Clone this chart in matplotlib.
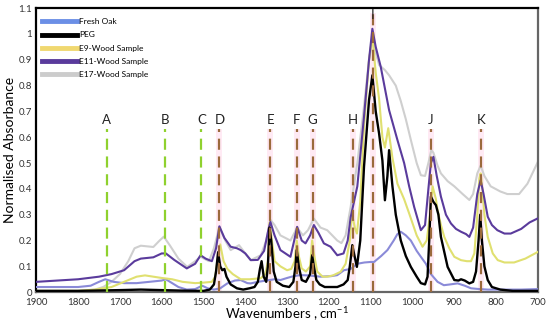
import numpy as np
import matplotlib
matplotlib.use("Agg")
import matplotlib.pyplot as plt

plt.rcParams['font.family'] = ['Lato', 'DejaVu Sans']

# wavenumbers (cm-1) and normalised absorbance
oak_wn = [1900, 1850, 1800, 1770, 1750, 1735, 1715, 1690, 1660, 1630, 1600, 1590, 1575, 1560, 1540, 1520,
          1503, 1490, 1475, 1460, 1443, 1425, 1411, 1395, 1387, 1370, 1350, 1330, 1316, 1300, 1285, 1268,
          1250, 1220, 1195, 1180, 1164, 1148, 1132, 1115, 1100, 1092, 1075, 1060, 1045, 1036, 1028, 1016,
          1004, 990, 980, 968, 956, 940, 925, 910, 892, 875, 860, 840, 820, 780, 740, 700]
oak_ab = [0.02, 0.02, 0.02, 0.025, 0.04, 0.05, 0.04, 0.035, 0.035, 0.04, 0.045, 0.05, 0.035, 0.02, 0.01, 0.012,
          0.025, 0.015, 0.01, 0.015, 0.034, 0.045, 0.047, 0.035, 0.034, 0.04, 0.045, 0.05, 0.047, 0.055, 0.062, 0.066,
          0.065, 0.06, 0.062, 0.066, 0.085, 0.09, 0.11, 0.115, 0.117, 0.117, 0.14, 0.163, 0.2, 0.225, 0.234, 0.22,
          0.2, 0.16, 0.137, 0.11, 0.07, 0.04, 0.027, 0.03, 0.034, 0.025, 0.015, 0.012, 0.01, 0.01, 0.01, 0.012]

peg_wn = [1900, 1800, 1700, 1650, 1600, 1550, 1500, 1485, 1475, 1470, 1465, 1460, 1455, 1450, 1445, 1435,
          1420, 1405, 1390, 1378, 1370, 1365, 1361, 1356, 1350, 1346, 1342, 1338, 1332, 1325, 1310, 1295,
          1285, 1280, 1277, 1272, 1265, 1255, 1245, 1240, 1236, 1230, 1222, 1210, 1195, 1180, 1165, 1155,
          1150, 1144, 1140, 1133, 1125, 1116, 1104, 1096, 1088, 1080, 1072, 1066, 1060, 1056, 1048, 1040,
          1028, 1016, 1004, 990, 980, 970, 964, 960, 956, 950, 944, 938, 932, 916, 900, 890, 884, 875, 864,
          855, 848, 842, 838, 834, 828, 820, 810, 790, 760, 730, 700]
peg_ab = [0.005, 0.005, 0.008, 0.01, 0.008, 0.006, 0.005, 0.01, 0.03, 0.08, 0.155, 0.1, 0.085, 0.09, 0.06, 0.03,
          0.015, 0.01, 0.015, 0.02, 0.04, 0.09, 0.12, 0.06, 0.04, 0.1, 0.25, 0.2, 0.08, 0.04, 0.025, 0.02,
          0.04, 0.1, 0.163, 0.1, 0.047, 0.04, 0.07, 0.143, 0.1, 0.047, 0.03, 0.02, 0.02, 0.02, 0.03, 0.047,
          0.1, 0.182, 0.15, 0.098, 0.2, 0.486, 0.744, 0.84, 0.7, 0.615, 0.51, 0.356, 0.45, 0.55, 0.41, 0.3,
          0.2, 0.14, 0.098, 0.06, 0.035, 0.03, 0.06, 0.2, 0.37, 0.35, 0.337, 0.3, 0.214, 0.098, 0.047, 0.045, 0.05, 0.045, 0.034,
          0.04, 0.08, 0.2, 0.3, 0.2, 0.1, 0.047, 0.02, 0.01, 0.005, 0.005, 0.005]

e9_wn = [1900, 1800, 1760, 1720, 1690, 1660, 1640, 1620, 1600, 1575, 1550, 1520, 1500, 1480, 1472, 1465,
         1460, 1452, 1443, 1430, 1411, 1390, 1363, 1352, 1346, 1342, 1338, 1330, 1316, 1300, 1290, 1282,
         1277, 1272, 1265, 1255, 1245, 1240, 1236, 1228, 1215, 1204, 1190, 1172, 1160, 1150, 1145, 1138,
         1133, 1125, 1116, 1104, 1096, 1088, 1080, 1072, 1066, 1058, 1048, 1036, 1020, 1008, 990, 976,
         966, 958, 952, 944, 940, 932, 924, 912, 900, 884, 870, 860, 852, 845, 840, 837, 833, 828, 820,
         808, 796, 780, 757, 730, 700]
e9_ab = [0.005, 0.005, 0.01, 0.02, 0.04, 0.06, 0.065, 0.06, 0.055, 0.05, 0.04, 0.035, 0.037, 0.04, 0.06, 0.14,
         0.185, 0.12, 0.09, 0.07, 0.05, 0.05, 0.054, 0.07, 0.12, 0.27, 0.22, 0.12, 0.1, 0.085, 0.09, 0.12,
         0.2, 0.14, 0.092, 0.08, 0.1, 0.2, 0.15, 0.08, 0.06, 0.06, 0.065, 0.079, 0.11, 0.2, 0.305, 0.25,
         0.227, 0.35, 0.64, 0.9, 0.99, 0.85, 0.75, 0.6, 0.56, 0.635, 0.52, 0.42, 0.36, 0.305, 0.22, 0.176,
         0.2, 0.3, 0.41, 0.36, 0.318, 0.26, 0.214, 0.17, 0.137, 0.124, 0.12, 0.12, 0.15, 0.3, 0.44, 0.46, 0.4, 0.3, 0.214,
         0.15, 0.124, 0.115, 0.115, 0.13, 0.156]

e11_wn = [1900, 1800, 1750, 1720, 1690, 1665, 1650, 1620, 1600, 1590, 1570, 1540, 1520, 1507, 1495, 1480,
          1470, 1462, 1450, 1435, 1420, 1411, 1400, 1387, 1370, 1355, 1345, 1340, 1330, 1316, 1292, 1283,
          1276, 1265, 1256, 1245, 1236, 1225, 1212, 1196, 1180, 1165, 1155, 1148, 1132, 1116, 1104, 1096,
          1088, 1076, 1056, 1036, 1020, 1008, 996, 980, 970, 962, 956, 950, 942, 932, 920, 908, 896, 884,
          872, 864, 855, 845, 837, 830, 820, 810, 797, 780, 765, 740, 720, 700]
e11_ab = [0.04, 0.05, 0.06, 0.07, 0.085, 0.12, 0.13, 0.135, 0.15, 0.15, 0.125, 0.092, 0.11, 0.143, 0.13, 0.12,
          0.17, 0.255, 0.21, 0.176, 0.17, 0.163, 0.15, 0.124, 0.125, 0.16, 0.24, 0.272, 0.22, 0.163, 0.137, 0.2,
          0.253, 0.2, 0.189, 0.22, 0.26, 0.23, 0.189, 0.176, 0.143, 0.15, 0.2, 0.29, 0.41, 0.68, 0.9, 1.02,
          0.95, 0.873, 0.705, 0.589, 0.5, 0.41, 0.33, 0.24, 0.26, 0.4, 0.5, 0.524, 0.45, 0.37, 0.3, 0.266, 0.245, 0.234,
          0.225, 0.214, 0.25, 0.38, 0.434, 0.38, 0.292, 0.26, 0.24, 0.227, 0.227, 0.245, 0.27, 0.286]

e17_wn = [1900, 1800, 1760, 1740, 1720, 1700, 1680, 1665, 1650, 1620, 1605, 1595, 1580, 1560, 1539, 1520,
          1507, 1487, 1475, 1462, 1448, 1435, 1415, 1400, 1387, 1363, 1350, 1340, 1330, 1316, 1292, 1276,
          1262, 1250, 1236, 1220, 1204, 1180, 1170, 1160, 1148, 1132, 1116, 1104, 1096, 1088, 1080, 1066,
          1056, 1040, 1028, 1016, 1004, 990, 980, 970, 962, 955, 950, 940, 932, 916, 900, 880, 864, 855,
          845, 837, 828, 813, 790, 773, 745, 725, 700]
e17_ab = [0.005, 0.005, 0.01, 0.02, 0.04, 0.07, 0.12, 0.17, 0.18, 0.175, 0.2, 0.215, 0.18, 0.13, 0.098, 0.12,
          0.137, 0.12, 0.17, 0.253, 0.2, 0.163, 0.182, 0.15, 0.124, 0.143, 0.2, 0.28, 0.26, 0.22, 0.2, 0.25,
          0.22, 0.24, 0.285, 0.25, 0.24, 0.2, 0.19, 0.22, 0.33, 0.5, 0.72, 0.9, 0.98, 0.93, 0.88, 0.86,
          0.84, 0.8, 0.74, 0.67, 0.59, 0.5, 0.453, 0.45, 0.5, 0.55, 0.54, 0.49, 0.46, 0.43, 0.41, 0.38, 0.357, 0.38,
          0.46, 0.49, 0.45, 0.41, 0.39, 0.38, 0.38, 0.42, 0.505]

# band markers
band_labels = ['A', 'B', 'C', 'D', 'E', 'F', 'G', 'H', 'I', 'J', 'K']
band_wn = [1732, 1591, 1505, 1462, 1340, 1277, 1239, 1143, 1095, 956, 837]

green = '#8fd12e'
brown = '#9b6a3c'

fig = plt.figure(figsize=(5.5, 3.25), dpi=100)
ax = fig.add_axes([0.066, 0.101, 0.912, 0.874])

for lab, w in zip(band_labels, band_wn):
    col = green if lab in 'ABC' else brown
    top = 1.08 if lab == 'I' else 0.63
    if col == brown:
        ax.fill_between([w - 7, w + 7], 0, top, color='#ffb6d9', alpha=0.28, lw=0, zorder=1)
    ax.plot([w, w], [0, top], color=col, lw=1.6, dashes=(5, 3), zorder=6)
    ty = 1.075 if lab == 'I' else 0.665
    ax.text(w, ty, lab, ha='center', va='center', fontsize=9.5, color='#222222', zorder=7)

ax.plot(e17_wn, e17_ab, color='#cfcfcf', lw=1.5, zorder=2)
ax.plot(oak_wn, oak_ab, color='#8a8ad8', lw=1.5, zorder=3)
ax.plot(e9_wn, e9_ab, color='#e0e070', lw=1.5, zorder=3)
ax.plot(e11_wn, e11_ab, color='#5a3b9c', lw=1.5, zorder=4)
ax.plot(peg_wn, peg_ab, color='black', lw=1.7, zorder=5)

# legend with thicker handles, in the original order
order = ['Fresh Oak', 'PEG', 'E9-Wood Sample', 'E11-Wood Sample', 'E17-Wood Sample']
leg_cols = ['#6b8fe6', 'black', '#f0d870', '#5a3b9c', '#cccccc']
hs = [plt.Line2D([], [], color=c, lw=3.5) for c in leg_cols]
ax.legend(hs, order, loc='upper left', bbox_to_anchor=(0.0, 0.985), frameon=False,
          fontsize=6, handlelength=4.2, handletextpad=0.2, labelspacing=0.75, borderaxespad=0.3)

ax.set_xlim(1900, 700)
ax.set_ylim(0, 1.1)
ax.set_xticks(np.arange(1900, 699, -100))
ax.set_yticks(np.arange(0, 1.11, 0.1))
ax.set_yticklabels(['0', '0.1', '0.2', '0.3', '0.4', '0.5', '0.6', '0.7', '0.8', '0.9', '1', '1.1'])
ax.tick_params(length=0, labelsize=7, colors='#333333')
ax.tick_params(axis='x', pad=4)
ax.tick_params(axis='y', pad=3)
ax.set_xlabel('Wavenumbers , cm$^{\\mathregular{-1}}$', fontsize=9.5, labelpad=-1)
ax.set_ylabel('Normalised Absorbance', fontsize=10, labelpad=2)
for s in ['left', 'top']:
    ax.spines[s].set_color('black')
    ax.spines[s].set_linewidth(1.6)
for s in ['right', 'bottom']:
    ax.spines[s].set_color('#666666')
    ax.spines[s].set_linewidth(1.6)

fig.savefig('out.png', dpi=100)
